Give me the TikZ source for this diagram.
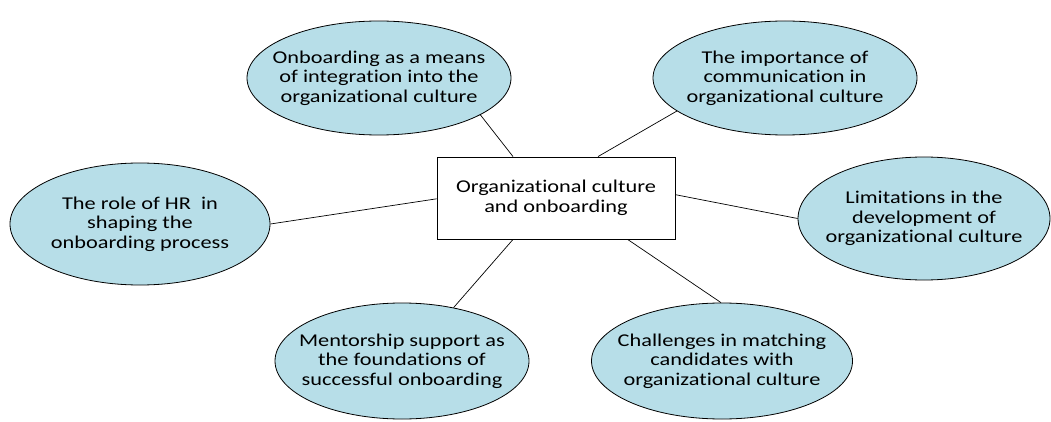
\documentclass[tikz,border=0pt]{standalone}
\usepackage{fontspec}
\newfontfamily\bubfont{Carlito}[FakeStretch=1.24,Ligatures={NoCommon}]
\usetikzlibrary{shapes.geometric,calc}
\definecolor{bubblefill}{HTML}{B7DEE8}
\begin{document}
\begin{tikzpicture}[x=1pt,y=-1pt,
  bubble/.style={ellipse,draw=black,line width=0.8pt,fill=bubblefill,inner sep=0pt},
  txt/.style={align=center,font=\bubfont\fontsize{18}{19.5}\selectfont,text=black,inner sep=0pt},
  hub/.style={rectangle,draw=black,line width=0.9pt,fill=white,minimum width=238pt,minimum height=82pt,inner sep=0pt},
  link/.style={draw=black,line width=0.7pt}]
\useasboundingbox (0,0) rectangle (1051,422);

% central topic
\node[hub] (c) at (556,198) {};
\node[txt] (ct) at (c.center) {Organizational culture\\and onboarding};

% surrounding themes
\node[bubble,minimum width=264pt,minimum height=114pt,
  label={[txt,name=tlt]center:{Onboarding as a means\\of integration into the\\organizational culture}}] (tl) at (379,78) {};
\node[bubble,minimum width=264pt,minimum height=114pt,
  label={[txt,name=trt]center:{The importance of\\communication in\\organizational culture}}] (tr) at (785,78) {};
\node[bubble,minimum width=260pt,minimum height=122pt,
  label={[txt,name=lt]center:{The role of HR\ \ in\\shaping the\\onboarding process}}] (l) at (140,224) {};
\node[bubble,minimum width=252pt,minimum height=123pt,
  label={[txt,name=rt]center:{Limitations in the\\development of\\organizational culture}}] (r) at (924,218.5) {};
\node[bubble,minimum width=254pt,minimum height=116pt,
  label={[txt,name=blt]center:{Mentorship support as\\the foundations of\\successful onboarding}}] (bl) at (402,361) {};
\node[bubble,minimum width=261pt,minimum height=116pt,
  label={[txt,name=brt]center:{Challenges in matching\\candidates with\\organizational culture}}] (br) at (722,361) {};

% connectors
\draw[link] ($(c.north west)!0.32!(c.north east)$) -- (tl.-20);
\draw[link] ($(c.north west)!0.676!(c.north east)$) -- (tr.197);
\draw[link] ($(c.north west)!0.51!(c.south west)$) -- (l.0);
\draw[link] ($(c.north east)!0.46!(c.south east)$) -- (r.180);
\draw[link] ($(c.south west)!0.32!(c.south east)$) -- (bl.46);
\draw[link] ($(c.south west)!0.80!(c.south east)$) -- (br.91);
\end{tikzpicture}
\end{document}
